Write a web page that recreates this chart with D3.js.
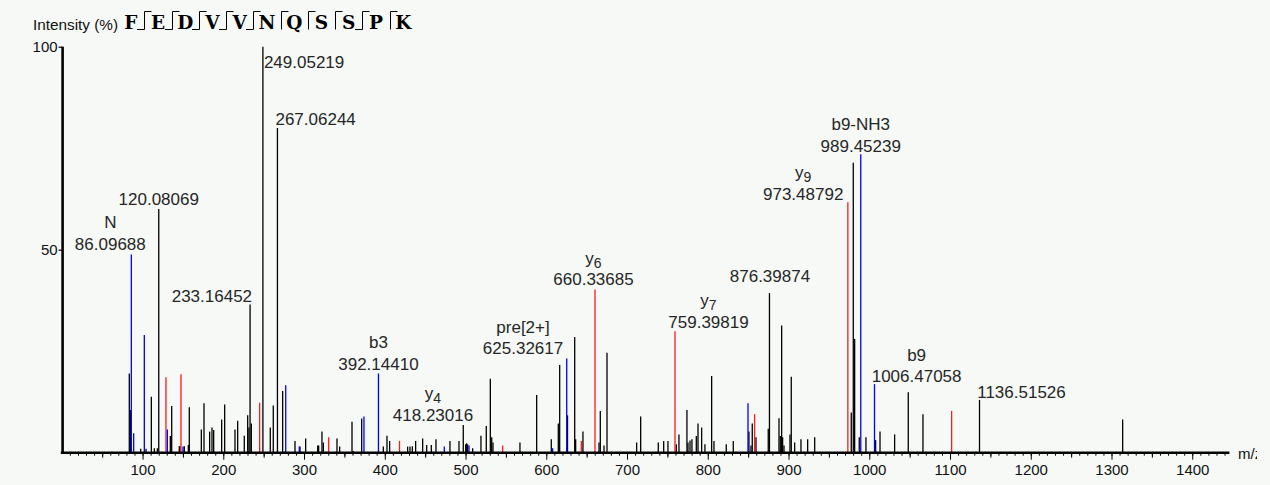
<!DOCTYPE html>
<html>
<head>
<meta charset="utf-8">
<script src="https://cdn.jsdelivr.net/npm/d3@7"></script>
<style>
  html, body { margin: 0; padding: 0; background: #f6f9f6; }
  svg { display: block; }
</style>
</head>
<body>
<svg id="chart" width="1270" height="485"></svg>
<script>
// ---------------- data ----------------
const sequence = ["F","E","D","V","V","N","Q","S","S","P","K"];
// fragment markers between residues: y-ion (top) and b-ion (bottom) observed
const yCleavage = [1,1,1,1,1,1,1,1,1,1];
const bCleavage = [1,1,1,1,1,0,0,0,1,0];

// peak m/z, relative intensity (%), and ion type ("b" blue, "y" red, "o" other)
const peakMz = [
  83.6, 85.3, 86.09688, 89.0, 97.7, 102.2, 104.3, 110.9, 114.6, 118.3, 120.08069,
  129.0, 130.7, 134.4, 136.1, 145.5, 146.4, 147.6, 150.1, 151.7, 156.7, 157.9,
  172.8, 176.1, 183.1, 186.0, 188.1, 198.0, 201.7, 214.5, 217.8, 226.0, 230.2,
  231.8, 233.16452, 234.7, 245.0, 249.05219, 258.2, 261.9, 267.06244, 273.5, 277.3,
  288.8, 294.1, 295.0, 302.0, 316.9, 318.1, 322.2, 323.9, 330.5, 340.8, 344.1,
  359.4, 361.0, 371.4, 374.2, 392.14410, 398.2, 402.7, 406.0, 418.23016, 428.3,
  431.2, 434.1, 438.2, 446.9, 451.9, 457.6, 463.4, 473.7,
  480.7, 491.9, 497.2, 500.2, 501.4, 502.7, 504.3, 508.8, 519.1, 525.7, 530.7,
  532.4, 534.0, 546.0, 567.4, 588.1, 606.2, 607.9, 614.9, 616.6, 625.32617, 626.3,
  635.2, 636.4, 643.4, 645.4, 660.33685, 665.3, 666.9, 671.5, 675.2, 711.9, 716.9,
  738.7, 745.4, 750.7, 759.39819, 761.0, 764.3, 774.2, 775.5, 778.0, 780.4, 785.8,
  787.9, 792.4, 796.5, 804.8, 807.7, 822.9, 831.6, 849.8, 851.0, 853.5, 855.1,
  858.0, 859.7, 874.9, 876.39874, 888.2, 889.8, 891.5, 892.7, 894.4, 901.8, 903.4,
  907.6, 915.4, 923.7, 932.4,
  973.48792, 977.7, 980.2, 981.9, 987.6, 989.45239, 995.9, 1006.47058, 1007.9,
  1013.3, 1031.4, 1048.3, 1066.5, 1102.0, 1136.51526, 1313.8
];
const peakIntensity = [
  19.5, 10.5, 48.8, 4.8, 1.0, 29.0, 1.0, 13.8, 1.1, 1.1, 60.0,
  18.6, 5.7, 4.1, 11.5, 1.6, 1.6, 19.3, 1.5, 1.6, 1.9, 11.2,
  5.7, 12.2, 5.2, 6.2, 5.6, 8.2, 11.9, 5.7, 7.9, 4.2, 9.2,
  6.2, 36.5, 7.2, 12.3, 100.0, 6.2, 11.6, 80.0, 15.2, 16.6,
  2.9, 1.5, 1.5, 3.5, 1.8, 1.8, 5.2, 2.5, 3.8, 3.5, 1.5,
  7.6, 0.4, 8.4, 8.9, 19.5, 1.5, 4.2, 2.9, 2.9, 1.5,
  1.5, 1.6, 2.9, 3.5, 1.9, 1.9, 3.3, 1.5,
  2.9, 2.9, 6.8, 2.1, 2.3, 2.0, 1.8, 1.1, 4.2, 6.6, 18.2,
  3.8, 2.5, 1.8, 2.5, 14.2, 3.3, 1.1, 7.2, 21.6, 23.2, 9.2,
  28.5, 3.3, 2.9, 5.2, 40.2, 2.5, 10.3, 1.8, 24.6, 2.5, 8.9,
  2.5, 2.9, 2.9, 29.9, 2.1, 4.5, 10.5, 2.5, 3.0, 3.3, 4.1,
  7.2, 6.2, 2.1, 18.9, 2.9, 2.1, 2.9, 12.2, 5.2, 1.8, 7.2,
  9.5, 3.8, 5.9, 39.3, 8.5, 4.1, 31.3, 3.8, 1.8, 4.5, 18.7,
  2.5, 3.3, 3.3, 3.8,
  61.7, 9.9, 71.4, 28.0, 3.8, 73.5, 3.8, 16.9, 3.1,
  5.2, 4.5, 14.9, 9.5, 10.3, 13.0, 8.2
];
const peakType = [
  "o","o","b","b","o","b","o","o","o","o","o",
  "y","b","o","o","o","o","y","b","o","o","o",
  "o","o","o","o","o","o","o","o","o","o","o",
  "o","o","o","y","o","o","o","o","o","b",
  "o","b","o","o","o","o","o","o","y","o","o",
  "o","o","o","b","b","o","o","o","y","o",
  "o","o","o","o","o","o","o","b",
  "o","o","o","o","o","o","b","o","o","o","o",
  "o","o","y","o","o","o","b","o","o","b","o",
  "o","o","y","o","y","o","o","o","o","o","o",
  "o","o","o","y","o","o","o","o","o","o","o",
  "o","o","o","o","o","o","o","b","o","o","o",
  "y","o","o","o","o","o","o","o","o","o","o",
  "o","o","o","o",
  "y","o","o","o","o","b","o","b","o",
  "o","o","o","o","y","o","o"
];

// annotated peaks
const labelMz   = [86.09688, 120.08069, 233.16452, 249.05219, 267.06244, 392.14410, 418.23016,
                   625.32617, 660.33685, 759.39819, 876.39874, 973.48792, 989.45239, 1006.47058, 1136.51526];
const labelText = ["86.09688","120.08069","233.16452","249.05219","267.06244","392.14410","418.23016",
                   "625.32617","660.33685","759.39819","876.39874","973.48792","989.45239","1006.47058","1136.51526"];
const labelIon  = ["N","","","","","b3","y4","pre[2+]","y6","y7","","y9","b9-NH3","b9",""];
const labelIntensity = [48.8, 60.0, 36.5, 100.0, 80.0, 19.5, 2.9, 23.2, 40.2, 29.9, 39.3, 61.7, 73.5, 16.9, 13.0];

const xTickValues = [100,200,300,400,500,600,700,800,900,1000,1100,1200,1300,1400];
const yTickValues = [50, 100];
const xDomainMax = 1446;

// ---------------- layout ----------------
// label placement (anchor, horizontal offset, vertical offset of number baseline from peak top)
const placement = [
  {a:"middle", dx:-21, dy:-5},
  {a:"middle", dx:0,   dy:-4},
  {a:"end",    dx:2,   dy:-3},
  {a:"start",  dx:1,   dy:21},
  {a:"start",  dx:-2,  dy:-3},
  {a:"middle", dx:0,   dy:-4},
  {a:"middle", dx:33.5,dy:-20},
  {a:"end",    dx:-3.5,dy:-4.5},
  {a:"middle", dx:-1.5,dy:-4},
  {a:"middle", dx:33.5,dy:-3.5},
  {a:"middle", dx:0.5, dy:-11.5},
  {a:"end",    dx:-4.5,dy:-2.5},
  {a:"middle", dx:0,   dy:-2.5},
  {a:"start",  dx:-2.8,dy:-2},
  {a:"start",  dx:-2.3,dy:-2}
];

const svg = d3.select("#chart");
const colors = {b:"#0000ff", y:"#ff1a1a", o:"#000000"};

const x = d3.scaleLinear().domain([0, xDomainMax]).range([61.8, 1229.4]);
const y = d3.scaleLinear().domain([0, 100]).range([452.7, 46.7]);

svg.append("rect").attr("width",1270).attr("height",485).attr("fill","#f6f9f6");

const fontSans = "'Liberation Sans', Arial, sans-serif";

// header
svg.append("text").attr("x",33).attr("y",29.5)
  .attr("font-family",fontSans).attr("font-size",15.3).attr("fill","#111")
  .text("Intensity (%)");

const seqX0 = 130.7, seqStep = 27.25;
const seqG = svg.append("g");
seqG.selectAll("text.res").data(sequence).join("text")
  .attr("class","res")
  .attr("x",(d,i)=>seqX0 + i*seqStep).attr("y",29)
  .attr("text-anchor","middle")
  .attr("font-family","'DejaVu Serif', 'Liberation Serif', serif")
  .attr("font-weight","bold").attr("font-size",18.5).attr("fill","#000")
  .text(d=>d);
const sepIdx = d3.range(sequence.length-1);
seqG.selectAll("path.sep").data(sepIdx).join("path")
  .attr("class","sep")
  .attr("fill","none").attr("stroke","#000").attr("stroke-width",1)
  .attr("d", i => {
    const sx = Math.round(seqX0 + (i+0.5)*seqStep) + 0.5;
    let p = `M${sx},11.5 L${sx},29.5`;
    if (yCleavage[i]) p += ` M${sx},11.5 L${sx+7},11.5`;
    if (bCleavage[i]) p += ` M${sx},29.5 L${sx-7.5},29.5`;
    return p;
  });

// peaks
const peaks = peakMz.map((m,i)=>({mz:m, v:peakIntensity[i], t:peakType[i]}));
const order = {o:0, y:1, b:1};
peaks.sort((a,b)=>order[a.t]-order[b.t]);
svg.append("g").selectAll("line").data(peaks).join("line")
  .attr("x1",d=>x(d.mz)).attr("x2",d=>x(d.mz))
  .attr("y1",y(0)).attr("y2",d=>y(d.v))
  .attr("stroke",d=>colors[d.t]).attr("stroke-width",1.3);

// x axis: three tick levels
const axisG = svg.append("g").attr("transform",`translate(0,${y(0)})`);
const minorTicks = d3.range(10, xDomainMax, 10);
const midTicks = d3.range(50, xDomainMax, 100);
axisG.append("g").call(d3.axisBottom(x).tickValues(minorTicks).tickSize(3).tickFormat(""))
  .call(g=>g.select(".domain").remove());
axisG.append("g").call(d3.axisBottom(x).tickValues(midTicks).tickSize(5).tickFormat(""))
  .call(g=>g.select(".domain").remove());
const majorAxis = axisG.append("g").call(d3.axisBottom(x).tickValues(xTickValues).tickSize(7).tickPadding(5).tickFormat(d3.format("d")));
majorAxis.select(".domain").remove();
axisG.selectAll(".tick line").attr("stroke","#000").attr("stroke-width",1);
majorAxis.selectAll("text").attr("font-family",fontSans).attr("font-size",15).attr("fill","#111");
axisG.append("line").attr("x1",x(0)-1).attr("x2",x(xDomainMax)).attr("y1",0).attr("y2",0)
  .attr("stroke","#000").attr("stroke-width",2.6);

// m/z label, clipped at right border
svg.append("clipPath").attr("id","clipR").append("rect").attr("x",0).attr("y",0).attr("width",1257).attr("height",485);
svg.append("text").attr("x",1238).attr("y",y(0)+6).attr("clip-path","url(#clipR)")
  .attr("font-family",fontSans).attr("font-size",15).attr("fill","#111").text("m/z");

// y axis
const yAxisG = svg.append("g").attr("transform",`translate(${x(0)+0.8},0)`);
yAxisG.call(d3.axisLeft(y).tickValues(yTickValues).tickSize(4).tickPadding(1).tickFormat(d3.format("d")));
yAxisG.select(".domain").remove();
yAxisG.selectAll(".tick line").attr("stroke","#000").attr("stroke-width",1.2);
yAxisG.selectAll("text").attr("font-family",fontSans).attr("font-size",15).attr("fill","#111");
yAxisG.append("line").attr("x1",0).attr("x2",0).attr("y1",y(100)).attr("y2",y(0))
  .attr("stroke","#000").attr("stroke-width",2.6);

// labels
const labG = svg.append("g").attr("font-family",fontSans).attr("font-size",17).attr("fill","#262626");
labelMz.forEach((m,i)=>{
  const p = placement[i];
  const px = x(m) + p.dx;
  const by = y(labelIntensity[i]) + p.dy;
  const t = labG.append("text").attr("x",px).attr("y",by).attr("text-anchor",p.a).text(labelText[i]);
  const bb = t.node().getBBox();
  const cx = bb.x + bb.width/2;
  const ion = labelIon[i];
  if (ion) {
    const it = labG.append("text").attr("x",cx).attr("y",by-21.5).attr("text-anchor","middle");
    const m2 = /^y(\d+)$/.exec(ion);
    if (m2) {
      it.append("tspan").text("y");
      it.append("tspan").attr("font-size",14).attr("dy",4).text(m2[1]);
    } else {
      it.text(ion);
    }
  }
});
</script>
</body>
</html>
